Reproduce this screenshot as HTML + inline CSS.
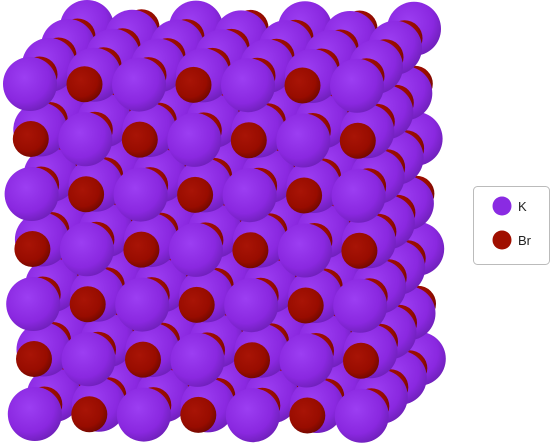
<!DOCTYPE html>
<html><head><meta charset="utf-8"><style>
html,body{margin:0;padding:0;background:#fff;}
svg{display:block;font-family:"Liberation Sans",sans-serif;}
</style></head><body>
<svg id="chart" width="551" height="448" viewBox="0 0 551 448">
<defs>
<radialGradient id="gK" cx="0.4" cy="0.38" r="0.65">
<stop offset="0" stop-color="#9c3ef2"/><stop offset="0.7" stop-color="#8a28e0"/><stop offset="1" stop-color="#7020bc"/>
</radialGradient>
<radialGradient id="gBr" cx="0.4" cy="0.38" r="0.65">
<stop offset="0" stop-color="#a81406"/><stop offset="0.7" stop-color="#980c00"/><stop offset="1" stop-color="#720800"/>
</radialGradient>
</defs>
<g id="atoms"></g>
<g>
<rect x="473.5" y="186.5" width="76" height="78" rx="4" fill="#fff" stroke="#bbb"/>
<circle cx="502" cy="206" r="9.5" fill="#8a2be2"/>
<text x="518" y="211" font-size="13" fill="#222">K</text>
<circle cx="502" cy="240" r="9.5" fill="#a00f00"/>
<text x="518" y="245" font-size="13" fill="#222">Br</text>
</g>
</svg>
<script>
const nx = 7, ny = 7, nz = 7;
const elements = ["K", "Br"];
const radii = [27, 18];
const fills = ["url(#gK)", "url(#gBr)"];
function px(i,j,k){return 30 + j*0.8 + i*54.5 + k*9.5;}
function py(i,j,k){return 84 + j*55 + i*0.3 - k*9.5;}
const g = document.getElementById('atoms');
for (let k = nz-1; k >= 0; k--) {
  for (let j = 0; j < ny; j++) {
    for (let i = 0; i < nx; i++) {
      const t = (i+j+k) % 2;
      const c = document.createElementNS('http://www.w3.org/2000/svg','circle');
      c.setAttribute('cx', px(i,j,k));
      c.setAttribute('cy', py(i,j,k));
      c.setAttribute('r', radii[t]);
      c.setAttribute('fill', fills[t]);
      
      
      g.appendChild(c);
    }
  }
}
</script>
</body></html>
